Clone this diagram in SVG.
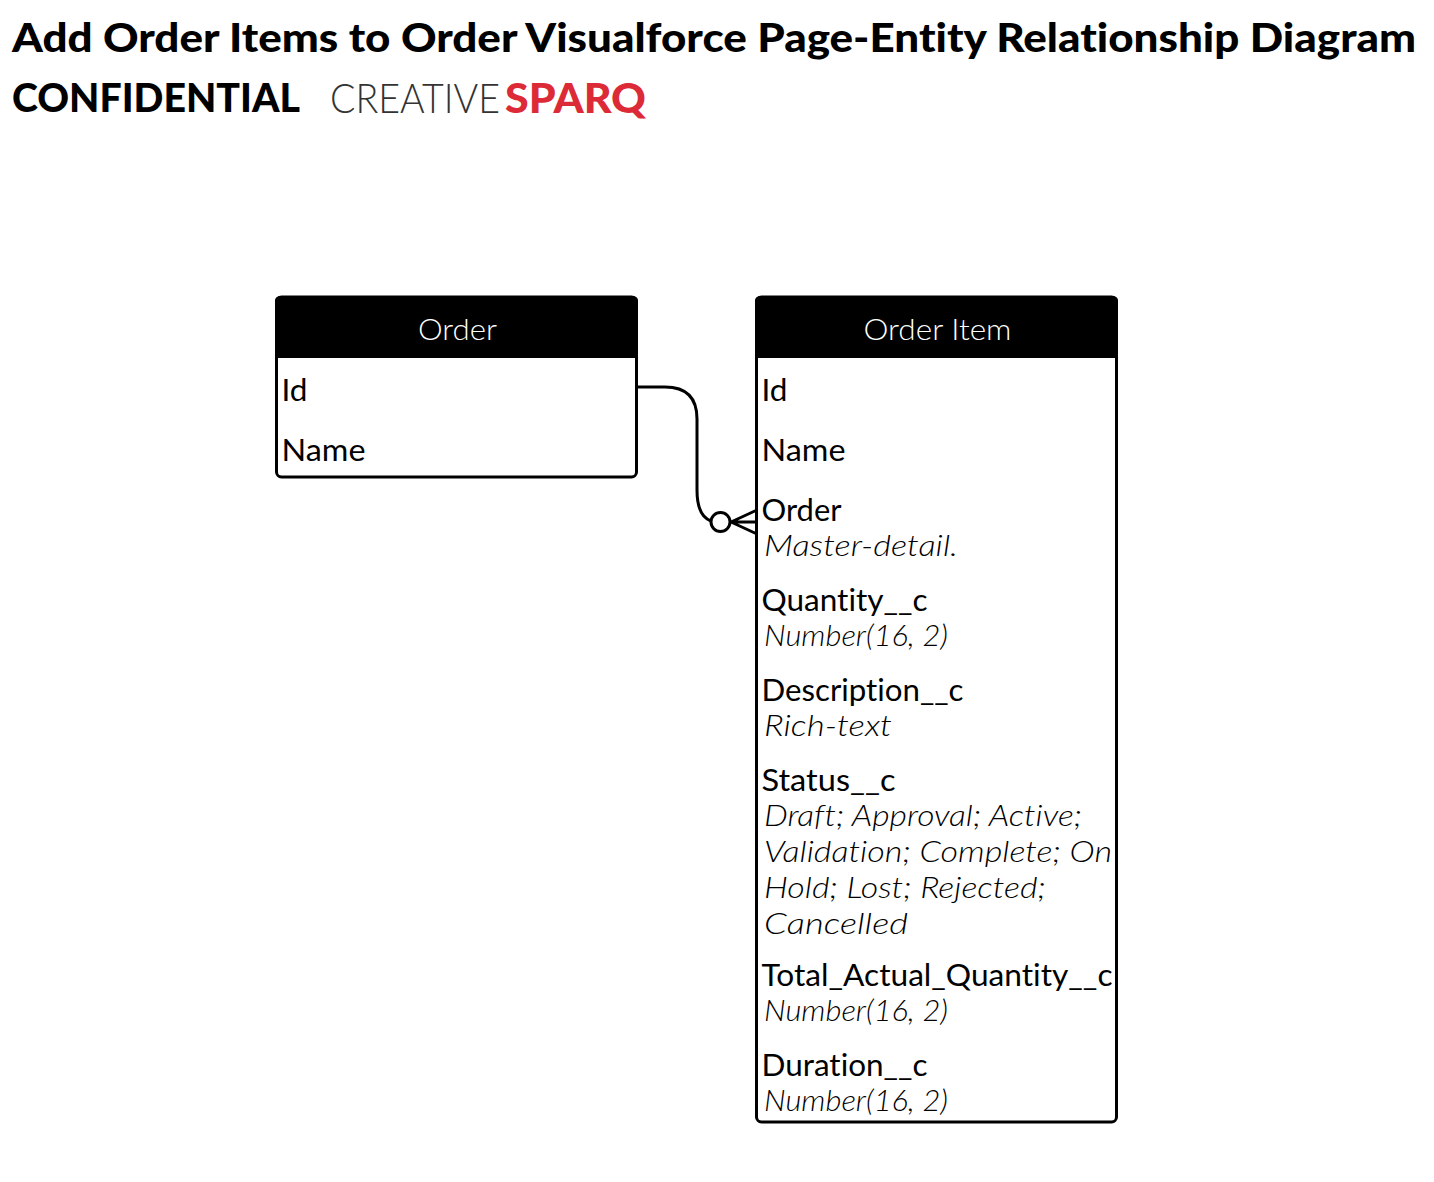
<svg xmlns="http://www.w3.org/2000/svg" width="1434" height="1182" viewBox="0 0 1434 1182">
<style>
text{font-family:"Lato","Liberation Sans",sans-serif;fill:#000;font-variant-ligatures:none}
.t{font-size:40px;font-weight:900}
.f{font-size:30px;font-weight:400}
.s{font-size:30px;font-weight:300;font-style:italic;fill:#000}
.h{font-size:30px;font-weight:300;fill:#fff;text-anchor:middle}
.box{fill:#fff;stroke:#000;stroke-width:3}
.head{fill:#000}
.c{fill:none;stroke:#000;stroke-width:3}
</style>
<g id="title">
<text class="t" x="12" y="52" textLength="1404" lengthAdjust="spacingAndGlyphs">Add Order Items to Order Visualforce Page-Entity Relationship Diagram</text>
<text class="t" x="12" y="112" textLength="288" lengthAdjust="spacingAndGlyphs">CONFIDENTIAL</text>
<text x="330" y="113" font-size="41" font-weight="300" style="fill:#333" textLength="170" lengthAdjust="spacingAndGlyphs">CREATIVE</text>
<text x="505" y="113" font-size="41" font-weight="900" style="fill:#dc2b37" textLength="141" lengthAdjust="spacingAndGlyphs">SPARQ</text>
</g>
<g id="connectors">
<path class="c" d="M637 387H665Q697 387 697 419V490Q697 516 711 521"/>
<circle class="c" cx="720.500" cy="522" r="9.500"/>
<path class="c" d="M731 522L757 510M731 522H757M731 522L757 534"/>
</g>
<g id="order">
<rect class="box" x="276.500" y="297" width="360" height="180" rx="5"/>
<path class="head" d="M281 296H632Q638 296 638 301V358H275V301Q275 296 281 296Z"/>
<text class="h" x="457.500" y="340" textLength="79" lengthAdjust="spacingAndGlyphs">Order</text>
<text class="f" x="281.500" y="401" textLength="26" lengthAdjust="spacingAndGlyphs">Id</text>
<text class="f" x="281.500" y="461" textLength="84" lengthAdjust="spacingAndGlyphs">Name</text>
</g>
<g id="order-item">
<rect class="box" x="756.500" y="297" width="360" height="825" rx="5"/>
<path class="head" d="M761 296H1112Q1118 296 1118 301V358H755V301Q755 296 761 296Z"/>
<text class="h" x="937.500" y="340" textLength="148" lengthAdjust="spacingAndGlyphs">Order Item</text>
<text class="f" x="761.500" y="401" textLength="26" lengthAdjust="spacingAndGlyphs">Id</text>
<text class="f" x="761.500" y="461" textLength="84" lengthAdjust="spacingAndGlyphs">Name</text>
<text class="f" x="761.500" y="521" textLength="80" lengthAdjust="spacingAndGlyphs">Order</text>
<text class="s" x="764" y="556" textLength="194" lengthAdjust="spacingAndGlyphs">Master-detail.</text>
<text class="f" x="761.500" y="611" textLength="166" lengthAdjust="spacingAndGlyphs">Quantity__c</text>
<text class="s" x="764" y="646" textLength="184" lengthAdjust="spacingAndGlyphs">Number(16, 2)</text>
<text class="f" x="761.500" y="701" textLength="202" lengthAdjust="spacingAndGlyphs">Description__c</text>
<text class="s" x="764" y="736" textLength="128" lengthAdjust="spacingAndGlyphs">Rich-text</text>
<text class="f" x="761.500" y="791" textLength="134" lengthAdjust="spacingAndGlyphs">Status__c</text>
<text class="s" x="764" y="826" textLength="318" lengthAdjust="spacingAndGlyphs">Draft; Approval; Active;</text>
<text class="s" x="764" y="862" textLength="348" lengthAdjust="spacingAndGlyphs">Validation; Complete; On</text>
<text class="s" x="764" y="898" textLength="282" lengthAdjust="spacingAndGlyphs">Hold; Lost; Rejected;</text>
<text class="s" x="764" y="934" textLength="144" lengthAdjust="spacingAndGlyphs">Cancelled</text>
<text class="f" x="761.500" y="986" textLength="351" lengthAdjust="spacingAndGlyphs">Total_Actual_Quantity__c</text>
<text class="s" x="764" y="1021" textLength="184" lengthAdjust="spacingAndGlyphs">Number(16, 2)</text>
<text class="f" x="761.500" y="1076" textLength="166" lengthAdjust="spacingAndGlyphs">Duration__c</text>
<text class="s" x="764" y="1111" textLength="184" lengthAdjust="spacingAndGlyphs">Number(16, 2)</text>
</g>
</svg>
